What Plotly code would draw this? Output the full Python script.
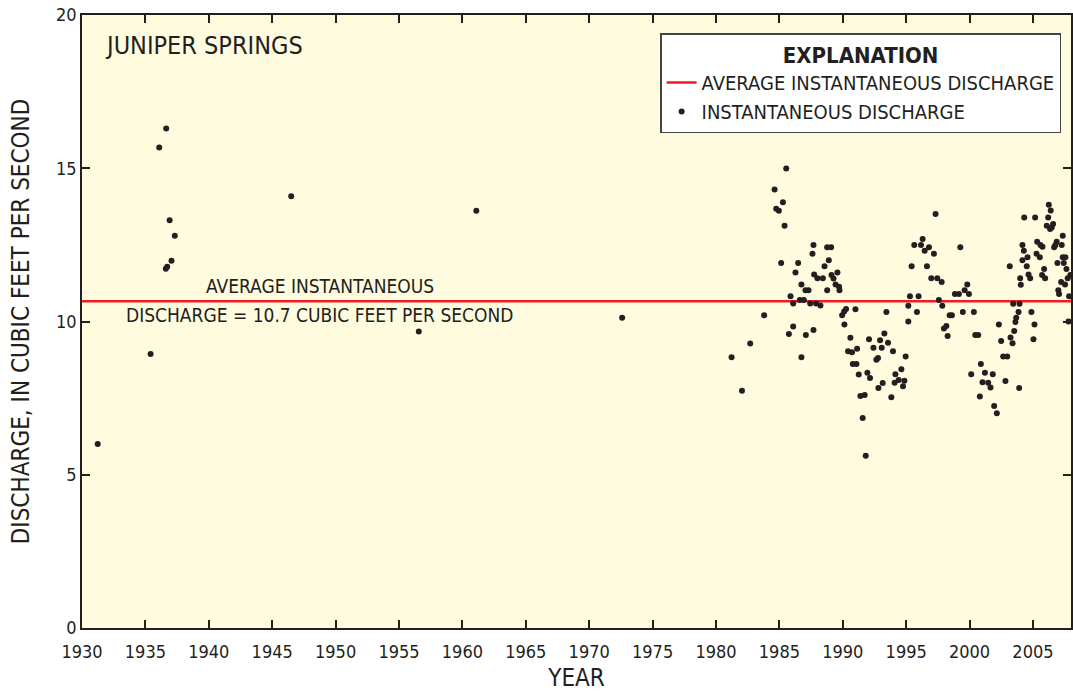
import plotly.graph_objects as go

# ---- data ----
years = [
    1931.24, 1935.41, 1936.09, 1936.64, 1936.91, 1937.32, 1937.06, 1936.72, 1936.61,
    1946.5, 1956.56, 1961.1, 1972.6,
    1981.23, 1982.05, 1982.70, 1983.80,
    1984.62, 1984.75, 1984.96, 1985.14, 1985.28, 1985.41, 1985.54, 1985.75, 1985.88,
    1986.09, 1986.09, 1986.27, 1986.48, 1986.61, 1986.74, 1986.74, 1986.93,
    1987.06, 1987.09, 1987.30, 1987.43, 1987.61, 1987.69, 1987.69, 1987.74, 1987.90,
    1988.0, 1988.24, 1988.43, 1988.56, 1988.77, 1988.77, 1988.9, 1989.08, 1989.11,
    1989.27, 1989.43, 1989.58, 1989.71, 1989.74, 1989.95, 1990.11, 1990.13, 1990.26,
    1990.42, 1990.6, 1990.73, 1990.79, 1991.0, 1991.08, 1991.13, 1991.26, 1991.39,
    1991.57, 1991.73, 1991.81, 1991.94, 1992.07, 1992.15, 1992.42, 1992.65, 1992.78,
    1992.81, 1992.94, 1993.07, 1993.15, 1993.28, 1993.44, 1993.57, 1993.83, 1993.96,
    1994.09, 1994.15, 1994.41, 1994.62, 1994.75, 1994.86, 1994.96,
    1995.17, 1995.17, 1995.30, 1995.43, 1995.64, 1995.85, 1995.98, 1996.17, 1996.30,
    1996.46, 1996.64, 1996.80, 1996.98, 1997.19, 1997.32, 1997.45, 1997.58, 1997.80,
    1997.85, 1997.98, 1998.17, 1998.27, 1998.43, 1998.61, 1998.84, 1999.16, 1999.27,
    1999.47, 1999.61, 1999.82, 1999.95, 2000.13, 2000.34, 2000.45, 2000.68, 2000.81,
    2000.89, 2001.02, 2001.21, 2001.47, 2001.65, 2001.83, 2001.94, 2002.15, 2002.31,
    2002.49, 2002.65, 2002.83, 2002.97, 2003.17, 2003.23, 2003.39, 2003.44, 2003.52,
    2003.62, 2003.68, 2003.86, 2003.91, 2003.94, 2003.99, 2004.04, 2004.17, 2004.17,
    2004.28, 2004.31, 2004.51, 2004.57, 2004.65, 2004.78, 2004.88, 2005.04, 2005.12,
    2005.17, 2005.28, 2005.33, 2005.54, 2005.59, 2005.72, 2005.75, 2005.88, 2005.96,
    2006.09, 2006.20, 2006.25, 2006.35, 2006.40, 2006.48, 2006.59, 2006.67, 2006.77,
    2006.87, 2006.93, 2007.0, 2007.06, 2007.22, 2007.27, 2007.35, 2007.35, 2007.43,
    2007.53, 2007.56, 2007.64, 2007.74, 2007.80, 2007.85, 2007.95,
]
discharge = [
    6.00, 8.94, 15.68, 16.30, 13.30, 12.80, 11.98, 11.79, 11.72,
    14.09, 9.67, 13.61, 10.12,
    8.83, 7.74, 9.28, 10.20,
    14.31, 13.68, 13.61, 11.91, 13.89, 13.12, 14.99, 9.59, 10.82,
    10.59, 9.84, 11.60, 11.91, 10.70, 11.21, 8.83, 10.70,
    11.02, 9.56, 11.02, 10.59, 12.21, 12.50, 9.72, 11.53, 10.59,
    11.41, 10.52, 11.41, 11.80, 12.42, 11.02, 12.00, 12.42, 11.52,
    11.40, 11.21, 11.60, 11.13, 11.02, 10.20, 10.33, 9.90, 10.41,
    9.03, 9.47, 9.00, 8.61, 10.40, 8.61, 9.11, 8.27, 7.57,
    6.85, 7.60, 5.62, 8.33, 9.42, 8.16, 9.14, 8.75, 8.81,
    7.83, 9.39, 9.14, 7.99, 9.61, 10.31, 9.31, 7.53, 9.03,
    8.00, 8.28, 8.09, 8.44, 7.89, 8.07, 8.86,
    10.51, 10.00, 10.82, 11.80, 12.50, 10.31, 10.82, 12.50, 12.69,
    12.31, 11.80, 12.42, 11.41, 12.21, 13.51, 11.41, 10.70, 11.29,
    10.51, 9.77, 9.85, 9.53, 10.20, 10.20, 10.90, 10.90, 12.42,
    10.31, 11.02, 11.21, 10.90, 8.28, 10.31, 9.56, 9.56, 7.55,
    8.61, 8.02, 8.33, 8.00, 7.85, 8.28, 7.24, 7.01, 9.90,
    9.36, 8.86, 8.06, 8.86, 11.80, 9.48, 9.29, 10.58, 9.69,
    9.98, 10.12, 10.31, 7.83, 10.58, 11.41, 11.20, 12.00, 12.50,
    12.31, 13.39, 11.80, 12.10, 11.53, 11.41, 10.31, 9.42, 9.90,
    13.39, 12.21, 12.60, 12.10, 12.50, 11.52, 12.44, 11.71, 11.41,
    13.12, 13.39, 13.81, 13.02, 13.62, 13.07, 13.18, 12.42, 12.50,
    12.60, 11.91, 11.02, 10.90, 11.29, 12.50, 12.80, 12.10, 11.91,
    11.21, 12.10, 11.71, 11.41, 10.00, 10.82, 11.52,
]
average_discharge = 10.66
x_range = [1930, 2008]
x_ticks = [1930, 1935, 1940, 1945, 1950, 1955, 1960, 1965, 1970, 1975, 1980, 1985, 1990, 1995, 2000, 2005]
y_ticks = [0, 5, 10, 15, 20]

FONT = "Liberation Sans Narrow, DejaVu Sans Condensed, Roboto Condensed, Arial Narrow, sans-serif"
INK = "#231F20"
RED = "#ED1C24"
BG = "#FFFBDE"

fig = go.Figure()
fig.add_trace(go.Scatter(
    x=x_range, y=[average_discharge, average_discharge], mode="lines",
    line=dict(color=RED, width=2.5), name="AVERAGE INSTANTANEOUS DISCHARGE",
))
fig.add_trace(go.Scatter(
    x=years, y=discharge, mode="markers",
    marker=dict(color=INK, size=6), name="INSTANTANEOUS DISCHARGE",
))

fig.update_layout(
    width=1073, height=692,
    margin=dict(l=82, r=0, t=15, b=64),
    paper_bgcolor="white", plot_bgcolor=BG,
    font=dict(family=FONT, color=INK, size=18),
    showlegend=True,
    legend=dict(
        x=0.99, xanchor="right", y=0.9706, yanchor="top",
        bgcolor="white", bordercolor="#444", borderwidth=1.5,
        font=dict(size=20, family=FONT, color=INK),
        title=dict(text="<b>EXPLANATION</b>", side="top center", font=dict(size=22, family=FONT, color=INK)),
        tracegroupgap=0, itemwidth=30,
    ),
    xaxis=dict(
        range=x_range, tickmode="array", tickvals=x_ticks,
        showline=True, linecolor=INK, linewidth=1.5, mirror="ticks",
        ticks="inside", ticklen=8, tickcolor=INK, tickwidth=1.5,
        showgrid=False, zeroline=False, tickfont=dict(size=18), ticklabelstandoff=7,
        title=dict(text="YEAR", font=dict(size=24), standoff=9),
    ),
    yaxis=dict(
        range=[0, 20], tickmode="array", tickvals=y_ticks,
        showline=True, linecolor=INK, linewidth=1.5, mirror="ticks",
        ticks="inside", ticklen=8, tickcolor=INK, tickwidth=1.5,
        showgrid=False, zeroline=False, tickfont=dict(size=18),
        title=dict(text="DISCHARGE, IN CUBIC FEET PER SECOND", font=dict(size=24), standoff=20),
    ),
    annotations=[
        dict(x=1931.65, y=19.02, xref="x", yref="y", text="JUNIPER SPRINGS",
             showarrow=False, xanchor="left", yanchor="middle", font=dict(size=25)),
        dict(x=1948.74, y=average_discharge, xref="x", yref="y", text="AVERAGE INSTANTANEOUS",
             showarrow=False, xanchor="center", yanchor="bottom", yshift=2, font=dict(size=19)),
        dict(x=1948.74, y=average_discharge, xref="x", yref="y", text="DISCHARGE = 10.7 CUBIC FEET PER SECOND",
             showarrow=False, xanchor="center", yanchor="top", yshift=-1, font=dict(size=19)),
    ],
)

fig.write_html("out.html")
